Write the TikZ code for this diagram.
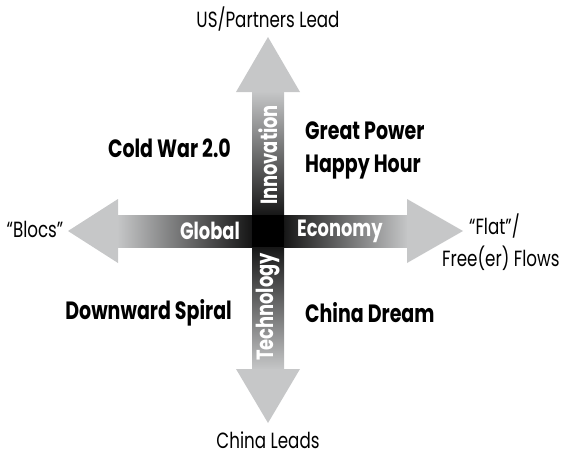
\documentclass[tikz,border=0pt]{standalone}
\usepackage{fontspec}
\setmainfont{Poppins}[FakeStretch=0.76]
\usepackage{tikz}
\usetikzlibrary{calc}
\definecolor{arrowgray}{HTML}{C6C7C8}
\tikzset{
  pole/.style={font=\fontsize{22}{24}\selectfont, align=left, inner sep=1pt},
  quadrant/.style={font=\fontsize{25}{33}\selectfont\bfseries, align=left, inner sep=1pt},
  axislabel/.style={font=\fontsize{23.5}{24}\selectfont\bfseries, text=white, inner sep=1pt},
}
\begin{document}
\begin{tikzpicture}[x=1pt,y=-1pt]
\useasboundingbox (0,0) rectangle (566,455);
\coordinate (c) at (268,231);
% shafts, light at the heads and dark in the middle
\shade[left color=arrowgray, right color=black] (117,215) rectangle (268,247);
\shade[left color=black, right color=arrowgray] (268,215) rectangle (408,247);
\shade[top color=arrowgray, bottom color=black] (252,91) rectangle (284,231);
\shade[top color=black, bottom color=arrowgray] (252,231) rectangle (284,370);
\fill[black] (252,215) rectangle (284,247);
% heads
\fill[arrowgray] (68,231) -- (118,199) -- (118,263) -- cycle;
\fill[arrowgray] (463,231) -- (407,199) -- (407,263) -- cycle;
\fill[arrowgray] (268,37) -- (236,92) -- (300,92) -- cycle;
\fill[arrowgray] (268,423) -- (236,369) -- (300,369) -- cycle;
% axis words
\node[axislabel, anchor=east] (global) at (241,231) {Global};
\node[axislabel, anchor=west] (economy) at (296,231) {Economy};
\node[axislabel, rotate=90] (innovation) at (268,155) {Innovation};
\node[axislabel, rotate=90] (technology) at (268,307) {Technology};
% ends of the axes
\node[pole] (us) at (268,19) {US/Partners Lead};
\node[pole] (china) at (268,440) {China Leads};
\node[pole] (blocs) at (35,229) {“Blocs”};
\node[pole, anchor=west] (flat) at (468,226) {“Flat”/};
\node[pole, anchor=west] (flows) at (441,258) {Free(er) Flows};
% quadrants
\node[quadrant, anchor=east] (coldwar) at (232,148) {Cold War 2.0};
\node[quadrant, anchor=west] (greatpower) at (304,150) {Great Power\\Happy Hour};
\node[quadrant, anchor=east] (spiral) at (233,313) {Downward Spiral};
\node[quadrant, anchor=west] (dream) at (304,313) {China Dream};
\end{tikzpicture}
\end{document}
